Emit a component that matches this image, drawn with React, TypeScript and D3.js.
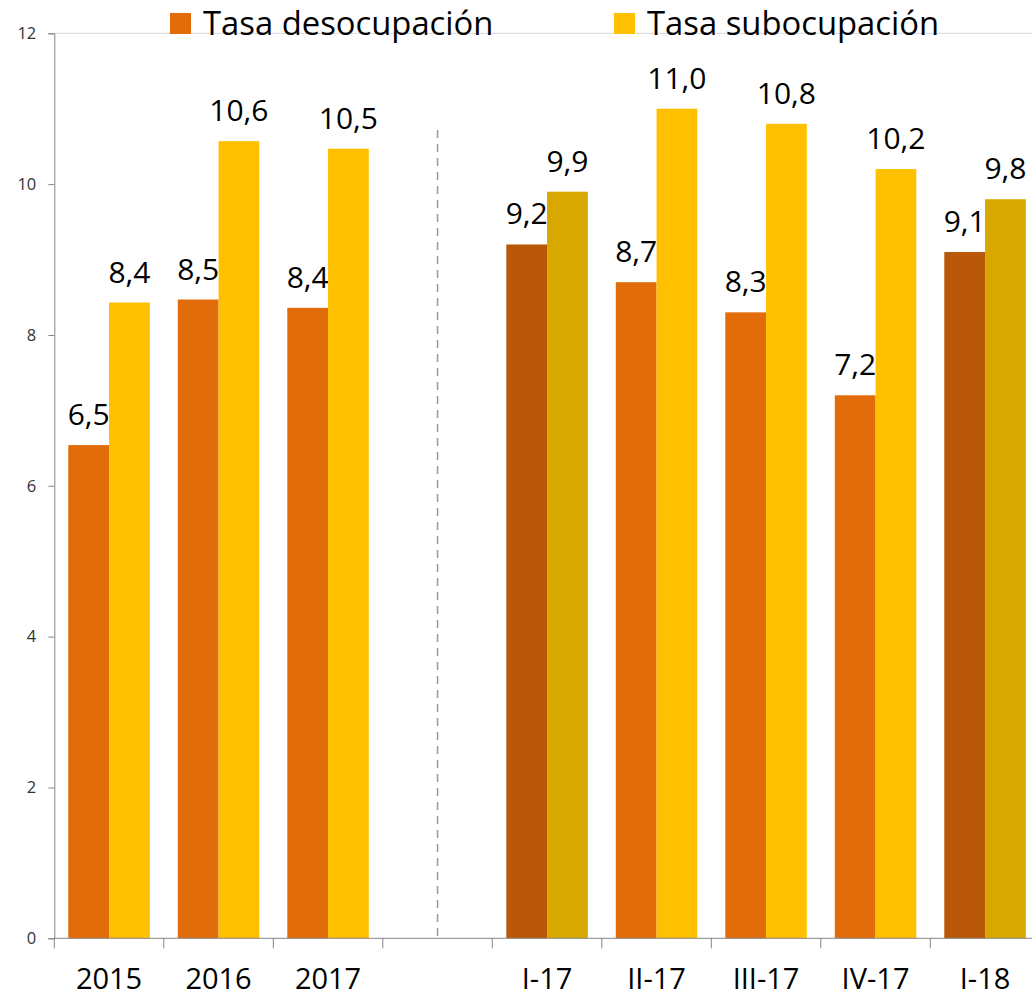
import React, { useRef, useEffect } from 'react';
import * as d3 from 'd3';

const categories = ['2015', '2016', '2017', '', 'I-17', 'II-17', 'III-17', 'IV-17', 'I-18'];
const desocupacion = [6.54, 8.47, 8.36, null, 9.2, 8.7, 8.3, 7.2, 9.1];
const subocupacion = [8.43, 10.57, 10.47, null, 9.9, 11.0, 10.8, 10.2, 9.8];
const highlighted = ['I-17', 'I-18'];
const yTicks = [0, 2, 4, 6, 8, 10, 12];
const seriesNames = ['Tasa desocupación', 'Tasa subocupación'];

const colors = {
  des: '#E36C0A',
  sub: '#FFC000',
  desDark: '#BA580A',
  subDark: '#D9A800'
};

export default function App() {
  const svgRef = useRef<SVGSVGElement>(null);

  useEffect(() => {
    const svg = d3.select(svgRef.current);
    svg.selectAll('*').remove();

    const width = 1032,
      height = 996;
    const left = 54.3,
      step = 109.5;
    const font = "'Open Sans', sans-serif";

    const x = d3
      .scaleBand()
      .domain(categories)
      .range([left, left + step * categories.length])
      .padding(0);

    const x1 = d3
      .scaleBand()
      .domain(['des', 'sub'])
      .range([14, step - 14]);

    const y = d3.scaleLinear().domain([0, 12]).range([938.3, 33.3]);

    // top border line
    svg
      .append('line')
      .attr('x1', left)
      .attr('x2', width)
      .attr('y1', y(12))
      .attr('y2', y(12))
      .attr('stroke', '#d9d9d9')
      .attr('stroke-width', 1);

    // dashed separator in the empty slot
    svg
      .append('line')
      .attr('x1', x('')! + step / 2)
      .attr('x2', x('')! + step / 2)
      .attr('y1', 130)
      .attr('y2', y(0))
      .attr('stroke', '#999')
      .attr('stroke-width', 1.5)
      .attr('stroke-dasharray', '8,6');

    const rows = categories.map((c, i) => ({
      cat: c,
      des: desocupacion[i],
      sub: subocupacion[i]
    }));

    const fmt = (v: number) => d3.format('.1f')(v).replace('.', ',');

    (['des', 'sub'] as const).forEach(key => {
      const data = rows.filter(d => d[key] != null);
      svg
        .selectAll('rect.' + key)
        .data(data)
        .enter()
        .append('rect')
        .attr('class', key)
        .attr('x', d => x(d.cat)! + x1(key)!)
        .attr('y', d => y(d[key] as number))
        .attr('width', x1.bandwidth())
        .attr('height', d => y(0) - y(d[key] as number))
        .attr('fill', d =>
          highlighted.includes(d.cat)
            ? key === 'des'
              ? colors.desDark
              : colors.subDark
            : key === 'des'
            ? colors.des
            : colors.sub
        );

      svg
        .selectAll('text.' + key)
        .data(data)
        .enter()
        .append('text')
        .attr('class', key)
        .attr('x', d => x(d.cat)! + x1(key)! + x1.bandwidth() / 2)
        .attr('y', d => y(d[key] as number) - 20)
        .attr('text-anchor', 'middle')
        .attr('font-family', font)
        .attr('font-size', 30)
        .attr('fill', '#000')
        .text(d => fmt(d[key] as number));
    });

    // Y axis
    const yAxis = svg
      .append('g')
      .attr('transform', 'translate(' + left + ',0)')
      .call(
        d3
          .axisLeft(y)
          .tickValues(yTicks)
          .tickSize(6)
          .tickPadding(12)
          .tickFormat(d3.format('d'))
      );
    yAxis.select('.domain').attr('stroke', '#868686');
    yAxis.selectAll('line').attr('stroke', '#868686');
    yAxis
      .selectAll('text')
      .attr('font-family', font)
      .attr('font-size', 16.5)
      .attr('fill', '#333');

    // X axis
    const xAxis = svg
      .append('g')
      .attr('transform', 'translate(0,' + y(0) + ')');
    xAxis
      .append('line')
      .attr('x1', left)
      .attr('x2', width)
      .attr('stroke', '#868686');
    const bounds = categories.map((c, i) => left + i * step);
    xAxis
      .selectAll('line.tick')
      .data(bounds)
      .enter()
      .append('line')
      .attr('class', 'tick')
      .attr('x1', d => d)
      .attr('x2', d => d)
      .attr('y1', 0)
      .attr('y2', 10)
      .attr('stroke', '#868686');
    xAxis
      .selectAll('text')
      .data(categories.filter(c => c !== ''))
      .enter()
      .append('text')
      .attr('x', d => x(d)! + step / 2)
      .attr('y', 51)
      .attr('text-anchor', 'middle')
      .attr('font-family', font)
      .attr('font-size', 29)
      .attr('fill', '#000')
      .text(d => d);

    // Legend
    const legend = [
      { name: seriesNames[0], color: colors.des, x: 170 },
      { name: seriesNames[1], color: colors.sub, x: 614 }
    ];
    const lg = svg
      .selectAll('g.legend')
      .data(legend)
      .enter()
      .append('g')
      .attr('class', 'legend')
      .attr('transform', d => 'translate(' + d.x + ',0)');
    lg.append('rect')
      .attr('x', 0)
      .attr('y', 13)
      .attr('width', 21)
      .attr('height', 21)
      .attr('fill', d => d.color);
    lg.append('text')
      .attr('x', 33)
      .attr('y', 35)
      .attr('font-family', font)
      .attr('font-size', 32.8)
      .attr('fill', '#000')
      .text(d => d.name);

    svg.attr('width', width).attr('height', height);
  }, []);

  return (
    <svg
      ref={svgRef}
      width={1032}
      height={996}
      style={{ position: 'absolute', left: 0, top: 0, background: '#fff' }}
    />
  );
}
